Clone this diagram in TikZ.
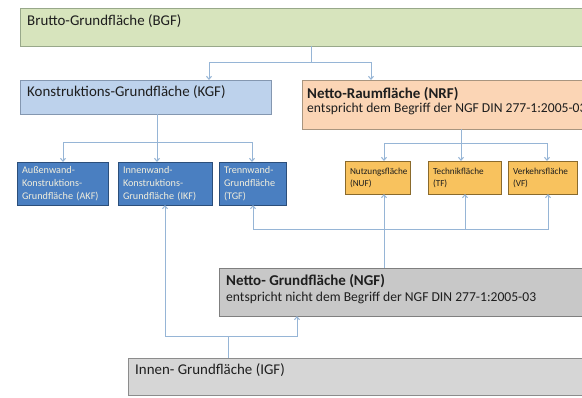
\documentclass[tikz,border=0pt]{standalone}
\usepackage{fontspec}
\setmainfont{Carlito}
\usetikzlibrary{arrows.meta}

\definecolor{bgfFill}{HTML}{D7E4BD}
\definecolor{bgfDraw}{HTML}{98A88A}
\definecolor{kgfFill}{HTML}{BDD2EC}
\definecolor{kgfDraw}{HTML}{8497B0}
\definecolor{nrfFill}{HTML}{FBD5B5}
\definecolor{nrfDraw}{HTML}{A8957F}
\definecolor{darkFill}{HTML}{4A7FC1}
\definecolor{darkDraw}{HTML}{2B4E7A}
\definecolor{darkText}{HTML}{F2EEDC}
\definecolor{ylwFill}{HTML}{F8C25E}
\definecolor{ylwDraw}{HTML}{8A6A2C}
\definecolor{ngfFill}{HTML}{C8C8C8}
\definecolor{ngfDraw}{HTML}{7F7F7F}
\definecolor{igfFill}{HTML}{D6D6D6}
\definecolor{igfDraw}{HTML}{8C8C8C}
\definecolor{link}{HTML}{96B5D6}
\definecolor{ink}{HTML}{1E1E1E}

\begin{document}
\begin{tikzpicture}[x=1pt,y=-1pt,
  box/.style={draw, line width=0.9pt, inner sep=0pt, outer sep=0pt, anchor=north west},
  bigtext/.style={anchor=west, inner sep=0pt, text=ink, font={\fontsize{14.9}{17}\selectfont}},
  subtext/.style={anchor=west, inner sep=0pt, text=ink, font={\fontsize{13.6}{16}\selectfont}},
  headtext/.style={anchor=west, inner sep=0pt, text=ink, font={\fontsize{15}{17}\selectfont\bfseries}},
  smallbox/.style={box, align=left, inner xsep=5pt, inner ysep=0pt,
    font={\fontsize{10.2}{13}\selectfont}},
  darkbox/.style={smallbox, fill=darkFill, draw=darkDraw, text=darkText},
  ylwbox/.style={smallbox, fill=ylwFill, draw=ylwDraw, text=ink,
    font={\fontsize{9.2}{12}\selectfont}},
  line/.style={draw=link, line width=1pt},
  arr/.style={line, -{Straight Barb[length=3pt,width=5pt]}}
]
\clip (0,0) rectangle (582,397);
\fill[white] (0,0) rectangle (582,397);

% upper level
\node[box, fill=bgfFill, draw=bgfDraw, minimum width=590pt, minimum height=38pt] (bgf) at (20,8) {};
\node[bigtext] (bgf-t) at (27,21) {Brutto-Grundfläche (BGF)};

\node[box, fill=kgfFill, draw=kgfDraw, minimum width=251pt, minimum height=34pt] (kgf) at (20,80) {};
\node[bigtext] (kgf-t) at (27,92) {Konstruktions-Grundfläche (KGF)};

\node[box, fill=nrfFill, draw=nrfDraw, minimum width=300pt, minimum height=49pt] (nrf) at (302,80) {};
\node[headtext] (nrf-t) at (307,94) {Netto-Raumfläche (NRF)};
\node[subtext] (nrf-s) at (307,109) {entspricht dem Begriff der NGF DIN 277-1:2005-03};

% construction parts
\node[darkbox, text width=81pt, minimum height=43pt] (akf) at (17,162)
  {Außenwand-\\Konstruktions-\\Grundfläche (AKF)};
\node[darkbox, text width=84pt, minimum height=43pt] (ikf) at (118,162)
  {Innenwand-\\Konstruktions-\\Grundfläche (IKF)};
\node[darkbox, text width=57pt, minimum height=43pt] (tgf) at (219,162)
  {Trennwand-\\Grundfläche\\(TGF)};

% net room parts
\node[ylwbox, text width=55pt, minimum height=33pt] (nuf) at (345,161)
  {Nutzungsfläche\\(NUF)};
\node[ylwbox, text width=63pt, minimum height=33pt] (tf) at (428,161)
  {Technikfläche\\(TF)};
\node[ylwbox, text width=59pt, minimum height=33pt] (vf) at (508,161)
  {Verkehrsfläche\\(VF)};

% lower level
\node[box, fill=ngfFill, draw=ngfDraw, minimum width=390pt, minimum height=48pt] (ngf) at (219,268) {};
\node[headtext] (ngf-t) at (226,281) {Netto- Grundfläche (NGF)};
\node[subtext] (ngf-s) at (226,298) {entspricht nicht dem Begriff der NGF DIN 277-1:2005-03};

\node[box, fill=igfFill, draw=igfDraw, minimum width=480pt, minimum height=37pt] (igf) at (128,358) {};
\node[bigtext] (igf-t) at (135,370) {Innen- Grundfläche (IGF)};

% branch points
\coordinate (b-stem) at (311,62);
\coordinate (b-l) at (209,62);
\coordinate (b-r) at (371,62);
\coordinate (k-stem) at (157,142);
\coordinate (k-l) at (63,142);
\coordinate (k-r) at (252,142);
\coordinate (n-stem) at (461,143);
\coordinate (n-l) at (384,143);
\coordinate (n-r) at (547,143);
\coordinate (g-stem) at (384,229);
\coordinate (g-l) at (253,229);
\coordinate (g-m) at (465,229);
\coordinate (g-r) at (548,229);
\coordinate (i-stem) at (228,336);
\coordinate (i-l) at (165,336);
\coordinate (i-r) at (297,336);

% BGF splits into KGF and NRF
\draw[line] (bgf.south -| b-stem) -- (b-stem);
\draw[arr] (b-stem) -- (b-l) -- (b-l |- kgf.north);
\draw[arr] (b-stem) -- (b-r) -- (b-r |- nrf.north);

% KGF splits into AKF, IKF, TGF
\draw[line] (kgf.south -| k-stem) -- (k-stem);
\draw[arr] (k-stem) -- (k-stem |- ikf.north);
\draw[arr] (k-stem) -- (k-l) -- (k-l |- akf.north);
\draw[arr] (k-stem) -- (k-r) -- (k-r |- tgf.north);

% NRF splits into NUF, TF, VF
\draw[line] (nrf.south -| n-stem) -- (n-stem);
\draw[arr] (n-stem) -- (n-stem |- tf.north);
\draw[arr] (n-stem) -- (n-l) -- (n-l |- nuf.north);
\draw[arr] (n-stem) -- (n-r) -- (n-r |- vf.north);

% NGF collects NUF, TF, VF and TGF
\draw[arr] (ngf.north -| g-stem) -- (g-stem |- nuf.south);
\draw[arr] (g-stem) -- (g-l) -- (g-l |- tgf.south);
\draw[arr] (g-stem) -- (g-m) -- (g-m |- tf.south);
\draw[arr] (g-m) -- (g-r) -- (g-r |- vf.south);

% IGF collects IKF and NGF
\draw[line] (igf.north -| i-stem) -- (i-stem);
\draw[arr] (i-stem) -- (i-l) -- (i-l |- ikf.south);
\draw[arr] (i-stem) -- (i-r) -- (i-r |- ngf.south);
\end{tikzpicture}
\end{document}
